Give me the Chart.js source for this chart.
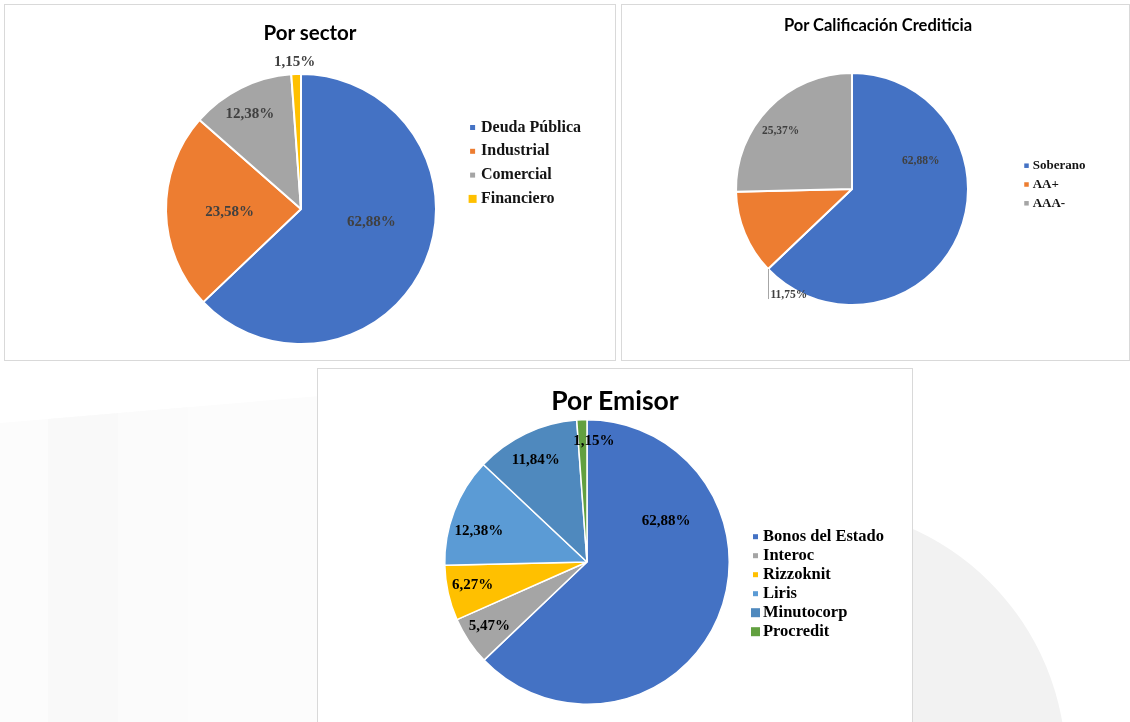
<!DOCTYPE html>
<html lang="es">
<head>
<meta charset="utf-8">
<title>Composición del portafolio</title>
<script src="https://cdn.jsdelivr.net/npm/chart.js@4.4.0/dist/chart.umd.min.js"></script>
<style>
  html, body { margin: 0; padding: 0; }
  body {
    width: 1130px; height: 722px; overflow: hidden; position: relative;
    background: #fff; font-family: 'Liberation Serif', serif;
  }
  /* faint watermark shapes behind the panels */
  .bg-circle {
    position: absolute; left: 546px; top: 506px; width: 520px; height: 520px;
    border-radius: 50%; background: #f2f2f2;
  }
  .bg-band {
    position: absolute; left: 0; top: 396px; width: 320px; height: 326px;
    background: #fcfcfc; clip-path: polygon(0 27px, 320px 0, 320px 326px, 0 326px);
  }
  .bg-band div { position: absolute; top: 0; height: 100%; }
  .panel {
    position: absolute; box-sizing: border-box; border: 1px solid #d9d9d9; background: #fff;
  }
  .panel canvas { position: absolute; left: 0; top: 0; }
  .title {
    position: absolute; font-family: Lato, sans-serif; font-weight: 700; color: #000;
    white-space: nowrap; line-height: 1; transform: translate(-50%, -50%);
  }
</style>
</head>
<body>
<div class="bg-circle"></div>
<div class="bg-band">
  <div style="left:48px;width:70px;background:#f9f9f9;"></div>
  <div style="left:118px;width:70px;background:#fbfbfb;"></div>
</div>

<div class="panel" style="left:4px;top:4px;width:612px;height:357px;">
  <canvas id="sectorChart" width="610" height="355"></canvas>
</div>
<div class="panel" style="left:621px;top:4px;width:509px;height:357px;">
  <canvas id="calChart" width="507" height="355"></canvas>
</div>
<div class="panel" style="left:317px;top:368px;width:596px;height:360px;">
  <canvas id="emisorChart" width="594" height="358"></canvas>
</div>

<div class="title" style="left:310px;top:32px;font-size:20.5px;">Por sector</div>
<div class="title" style="left:878px;top:25px;font-size:16.5px;">Por Calificación Crediticia</div>
<div class="title" style="left:615px;top:400px;font-size:26.5px;">Por Emisor</div>

<script>
// data
const sectorLabels = ['Deuda Pública', 'Industrial', 'Comercial', 'Financiero'];
const sectorValues = [62.88, 23.58, 12.38, 1.15];

const calLabels = ['Soberano', 'AA+', 'AAA-'];
const calValues = [62.88, 11.75, 25.37];

const emisorLabels = ['Bonos del Estado', 'Interoc', 'Rizzoknit', 'Liris', 'Minutocorp', 'Procredit'];
const emisorValues = [62.88, 5.47, 6.27, 12.38, 11.84, 1.15];

// colours
const BLUE = '#4472C4';
const ORANGE = '#ED7D31';
const GRAY = '#A5A5A5';
const YELLOW = '#FFC000';
const LIGHT_BLUE = '#5B9BD5';
const STEEL_BLUE = '#4F89BE';
const GREEN = '#62A03F';

// percentage labels placed on each arc: [radius fraction, angle fraction within slice]
const pieLabels = {
  id: 'pieLabels',
  afterDatasetsDraw(chart, args, opts) {
    const { ctx } = chart;
    const meta = chart.getDatasetMeta(0);
    const values = chart.data.datasets[0].data;
    ctx.save();
    ctx.font = opts.font;
    ctx.fillStyle = opts.color;
    ctx.textBaseline = 'middle';
    meta.data.forEach((arc, i) => {
      const p = arc.getProps(['x', 'y', 'startAngle', 'endAngle', 'outerRadius'], true);
      const text = values[i].toFixed(2).replace('.', ',') + '%';
      const [rf, af] = opts.positions[i];
      const ang = p.startAngle + (p.endAngle - p.startAngle) * af;
      const px = p.x + Math.cos(ang) * p.outerRadius * rf;
      const py = p.y + Math.sin(ang) * p.outerRadius * rf;
      if (opts.callout && opts.callout.index === i) {
        const lx = Math.round(px) + 0.5;
        ctx.strokeStyle = opts.callout.color;
        ctx.lineWidth = 1;
        ctx.beginPath();
        ctx.moveTo(lx, py);
        ctx.lineTo(lx, py + opts.callout.length);
        ctx.stroke();
        ctx.textAlign = 'left';
        ctx.fillText(text, lx + 2, py + opts.callout.length - 4);
      } else {
        ctx.textAlign = 'center';
        ctx.fillText(text, px, py);
      }
    });
    ctx.restore();
  },
};

// legend drawn at the side of the pie, with square markers
const sideLegend = {
  id: 'sideLegend',
  afterDraw(chart, args, opts) {
    const { ctx } = chart;
    const colors = chart.data.datasets[0].backgroundColor;
    ctx.save();
    ctx.font = opts.font;
    ctx.textAlign = 'left';
    ctx.textBaseline = 'middle';
    chart.data.labels.forEach((label, i) => {
      const y = opts.y + i * opts.gap;
      const s = opts.boxSizes[i];
      ctx.fillStyle = colors[i];
      ctx.fillRect(opts.x - s / 2, y - s / 2, s, s);
      ctx.fillStyle = opts.color;
      ctx.fillText(label, opts.textX, y);
    });
    ctx.restore();
  },
};

function makePie(id, labels, values, colors, borderWidth, padding, labelOpts, legendOpts) {
  return new Chart(document.getElementById(id), {
    type: 'pie',
    data: {
      labels,
      datasets: [{
        data: values,
        backgroundColor: colors,
        borderColor: '#ffffff',
        borderWidth,
      }],
    },
    options: {
      responsive: false,
      animation: false,
      events: [],
      layout: { padding },
      plugins: {
        legend: { display: false },
        title: { display: false },
        tooltip: { enabled: false },
        pieLabels: labelOpts,
        sideLegend: legendOpts,
      },
    },
    plugins: [pieLabels, sideLegend],
  });
}

makePie('sectorChart', sectorLabels, sectorValues,
  [BLUE, ORANGE, GRAY, YELLOW], 2,
  { left: 160, right: 178, top: 68, bottom: 15 },
  {
    font: 'bold 15px "Liberation Serif"',
    color: '#404040',
    positions: [[0.53, 0.444], [0.53, 0.485], [0.80, 0.46], [1.09, 0.39]],
  },
  {
    font: 'bold 16px "Liberation Serif"', color: '#141414',
    x: 467.6, textX: 476, y: 122.5, gap: 23.8, boxSizes: [5, 5, 5, 8],
  });

makePie('calChart', calLabels, calValues,
  [BLUE, ORANGE, GRAY], 2,
  { left: 113, right: 160, top: 67, bottom: 54 },
  {
    font: 'bold 11.5px "Liberation Serif"',
    color: '#404040',
    positions: [[0.64, 0.30], [1.0, 0.0], [0.79, 0.44]],
    callout: { index: 1, length: 30, color: '#a6a6a6' },
  },
  {
    font: 'bold 13px "Liberation Serif"', color: '#141414',
    x: 404.5, textX: 410.7, y: 160.7, gap: 18.8, boxSizes: [4.5, 4.5, 4.5],
  });

makePie('emisorChart', emisorLabels, emisorValues,
  [BLUE, GRAY, YELLOW, LIGHT_BLUE, STEEL_BLUE, GREEN], 1.5,
  { left: 126, right: 182, top: 50, bottom: 22 },
  {
    font: 'bold 15px "Liberation Serif"',
    color: '#000000',
    positions: [[0.625, 0.278], [0.82, 0.53], [0.82, 0.55], [0.79, 0.39], [0.80, 0.47], [0.85, 1.8]],
  },
  {
    font: 'bold 16.5px "Liberation Serif"', color: '#000000',
    x: 437.5, textX: 445, y: 167.7, gap: 19, boxSizes: [5, 5, 5, 5, 9, 9],
  });
</script>
</body>
</html>
